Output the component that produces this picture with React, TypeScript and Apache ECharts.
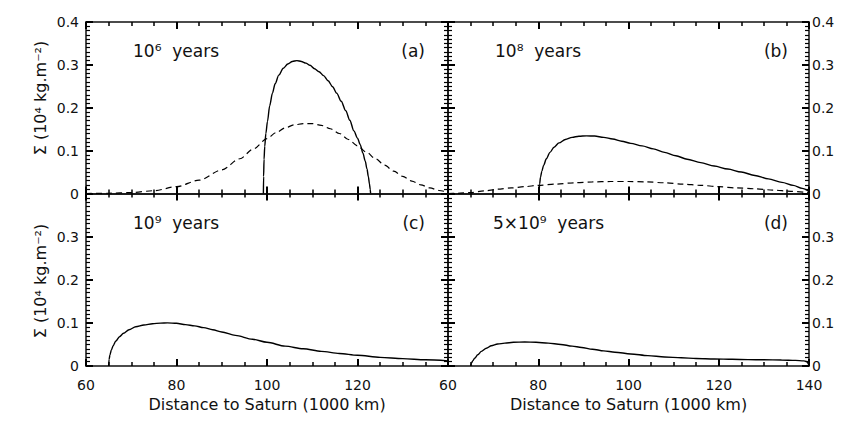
import React, { useEffect, useRef } from "react";
import * as echarts from "echarts";

// Radial range (1000 km) and surface density range (10^4 kg m^-2)
const X_MIN = 60;
const X_MAX = 140;
const X_STEP = 20;
const Y_MIN = 0;
const Y_MAX = 0.4;
const Y_STEP = 0.1;

// (a) 10^6 years
const aSolid: [number, number][] = [
  [99.2, 0], [99.25, 0.04], [99.35, 0.08], [99.5, 0.11], [99.75, 0.14], [100.1, 0.168],
  [100.6, 0.205], [101.2, 0.234], [101.8, 0.256], [102.6, 0.276], [103.6, 0.292],
  [104.6, 0.302], [105.6, 0.308], [106.6, 0.31], [107.6, 0.308], [108.6, 0.304],
  [109.5, 0.299], [110.5, 0.291], [111.5, 0.284], [112.5, 0.275], [113.5, 0.263],
  [114.5, 0.249], [115.4, 0.234], [116.4, 0.215], [117.4, 0.193], [118.3, 0.171],
  [119.2, 0.146], [120, 0.129], [120.6, 0.114], [121.2, 0.094], [121.7, 0.076],
  [122.1, 0.057], [122.4, 0.039], [122.65, 0.022], [122.8, 0.01], [122.9, 0],
];
const aDashed: [number, number][] = [
  [60, 0], [65, 0.0006], [70, 0.0022], [75, 0.0065], [80, 0.016], [85, 0.031], [90, 0.055],
  [94, 0.081], [97, 0.104], [100, 0.128], [102, 0.142], [104, 0.153], [106, 0.16],
  [108, 0.163], [110, 0.163], [112, 0.159], [114, 0.151], [116, 0.14], [118, 0.126],
  [120, 0.111], [122, 0.096], [124, 0.081], [126, 0.066], [128, 0.052], [130, 0.04],
  [132, 0.029], [134, 0.02], [136, 0.013], [138, 0.007], [140, 0.003],
];

// (b) 10^8 years
const bSolid: [number, number][] = [
  [80.2, 0], [80.3, 0.022], [80.5, 0.038], [80.8, 0.052], [81.2, 0.066], [81.8, 0.081],
  [82.6, 0.096], [83.5, 0.108], [84.6, 0.118], [86, 0.126], [87.5, 0.131], [89, 0.1335],
  [90.7, 0.1345], [92.5, 0.134], [94.5, 0.131], [96.5, 0.127], [98.5, 0.122], [100.5, 0.117],
  [103, 0.111], [105.5, 0.104], [108, 0.096], [110.5, 0.088], [113, 0.08], [116, 0.072],
  [119, 0.064], [122, 0.057], [125, 0.05], [128, 0.042], [131, 0.034], [134, 0.026],
  [136.5, 0.019], [138.5, 0.012], [140, 0.005],
];
const bDashed: [number, number][] = [
  [60, 0], [62, 0.0005], [65, 0.002], [68, 0.006], [71, 0.01], [74, 0.013], [77, 0.016],
  [80, 0.019], [84, 0.022], [88, 0.025], [92, 0.027], [96, 0.028], [100, 0.028], [104, 0.027],
  [108, 0.025], [112, 0.022], [116, 0.019], [120, 0.016], [124, 0.013], [128, 0.011],
  [132, 0.008], [136, 0.005], [140, 0.002],
];

// (c) 10^9 years
const cSolid: [number, number][] = [
  [65, 0], [65.1, 0.015], [65.3, 0.026], [65.6, 0.037], [66, 0.047], [66.6, 0.058],
  [67.4, 0.068], [68.3, 0.076], [69.5, 0.084], [71, 0.091], [72.8, 0.095], [74.7, 0.098],
  [76.5, 0.0995], [78, 0.1], [80, 0.099], [82, 0.096], [84, 0.093], [86, 0.089], [88, 0.084],
  [90, 0.079], [93, 0.071], [96.8, 0.062], [100, 0.055], [104, 0.046], [108, 0.04],
  [112, 0.034], [116, 0.029], [120, 0.025], [125, 0.02], [130, 0.017], [135, 0.0145],
  [140, 0.012],
];

// (d) 5x10^9 years
const dSolid: [number, number][] = [
  [65, 0], [65.2, 0.007], [65.5, 0.012], [65.9, 0.018], [66.6, 0.026], [67.4, 0.034],
  [68.5, 0.041], [69.6, 0.047], [71, 0.051], [72.6, 0.053], [74.5, 0.055], [77, 0.0555],
  [79.5, 0.055], [82.2, 0.053], [85, 0.05], [87.5, 0.046], [89.6, 0.043], [92, 0.039],
  [94.5, 0.035], [97, 0.032], [100.5, 0.028], [104.3, 0.024], [108, 0.021], [111.7, 0.019],
  [115, 0.0175], [119, 0.0164], [123, 0.0155], [126.5, 0.0148], [130, 0.0144],
  [133.9, 0.014], [137, 0.013], [138.8, 0.012], [139.4, 0.0105], [140, 0.002],
];

const panelTitles = ["10\u2076  years", "10\u2078  years", "10\u2079  years", "5\u00d710\u2079  years"];
const panelTags = ["(a)", "(b)", "(c)", "(d)"];
const yName = "\u03a3 (10\u2074 kg.m\u207b\u00b2)";
const xName = "Distance to Saturn (1000 km)";

const FONT = '"DejaVu Sans"';
const INK = "#111";

const grids = [
  { left: 86, top: 22, width: 362, height: 171.5 },
  { left: 448, top: 22, width: 361, height: 171.5 },
  { left: 86, top: 193.5, width: 362, height: 172.5 },
  { left: 448, top: 193.5, width: 361, height: 172.5 },
];

const majorTick = { show: true, inside: true, length: 7, lineStyle: { color: "#000", width: 2 } };

function xAxisFor(grid: number, position: string, showLabel: boolean, showMax: boolean) {
  return {
    type: "value",
    gridIndex: grid,
    position,
    min: X_MIN,
    max: X_MAX,
    interval: X_STEP,
    axisLine: { show: true, onZero: false, lineStyle: { color: INK, width: 1.5 } },
    axisTick: majorTick,
    minorTick: { show: true, splitNumber: 4, length: 4, lineStyle: { color: "#000", width: 1.5 } },
    splitLine: { show: false },
    axisLabel: {
      show: showLabel,
      showMaxLabel: showMax,
      margin: 12,
      fontFamily: FONT,
      fontSize: 14,
      color: INK,
    },
  };
}

function yAxisFor(grid: number, position: string, showLabel: boolean, showMax: boolean) {
  return {
    type: "value",
    gridIndex: grid,
    position,
    min: Y_MIN,
    max: Y_MAX,
    interval: Y_STEP,
    axisLine: { show: true, onZero: false, lineStyle: { color: INK, width: 1.5 } },
    axisTick: majorTick,
    minorTick: { show: true, splitNumber: 10, length: 4, lineStyle: { color: "#000", width: 1.2 } },
    splitLine: { show: false },
    axisLabel: {
      show: showLabel,
      showMaxLabel: showMax,
      margin: position === "left" ? 7 : 3,
      fontFamily: FONT,
      fontSize: 14,
      color: INK,
    },
  };
}

function curve(data: [number, number][], grid: number, dashed: boolean) {
  return {
    type: "line",
    xAxisIndex: grid * 2,
    yAxisIndex: grid * 2,
    data,
    symbol: "none",
    showSymbol: false,
    smooth: 0.3,
    smoothMonotone: "x",
    silent: true,
    lineStyle: { color: "#000", width: dashed ? 1.2 : 1.4, type: dashed ? [6, 4] : "solid" },
  };
}

export default function App() {
  const ref = useRef<HTMLDivElement>(null);

  useEffect(() => {
    if (!ref.current) return;
    const chart = echarts.init(ref.current, null, { renderer: "svg" });

    const xAxes: any[] = [];
    const yAxes: any[] = [];
    grids.forEach((_, i) => {
      const bottomRow = i >= 2;
      const leftCol = i % 2 === 0;
      xAxes.push(xAxisFor(i, "bottom", bottomRow, i === 3));
      xAxes.push(xAxisFor(i, "top", false, true));
      yAxes.push(yAxisFor(i, "left", leftCol, !bottomRow));
      yAxes.push(yAxisFor(i, "right", !leftCol, !bottomRow));
    });

    const textFont = `17px ${FONT}`;
    const graphics: any[] = [];
    const titlePos = [
      { x: 133, y: 51, tagX: 425 },
      { x: 495, y: 51, tagX: 788 },
      { x: 133, y: 222.5, tagX: 425 },
      { x: 493, y: 222.5, tagX: 788 },
    ];
    titlePos.forEach((p, i) => {
      graphics.push({
        type: "text",
        x: p.x,
        y: p.y,
        silent: true,
        style: { text: panelTitles[i], font: textFont, fill: INK, align: "left", verticalAlign: "middle" },
      });
      graphics.push({
        type: "text",
        x: p.tagX,
        y: p.y,
        silent: true,
        style: { text: panelTags[i], font: textFont, fill: INK, align: "right", verticalAlign: "middle" },
      });
    });
    [98, 281].forEach((cy) => {
      graphics.push({
        type: "text",
        x: 40,
        y: cy,
        rotation: Math.PI / 2,
        silent: true,
        style: { text: yName, font: `16px ${FONT}`, fill: INK, align: "center", verticalAlign: "middle" },
      });
    });
    [267, 628.5].forEach((cx) => {
      graphics.push({
        type: "text",
        x: cx,
        y: 404,
        silent: true,
        style: { text: xName, font: `16px ${FONT}`, fill: INK, align: "center", verticalAlign: "middle" },
      });
    });

    chart.setOption({
      animation: false,
      backgroundColor: "#fff",
      grid: grids,
      xAxis: xAxes,
      yAxis: yAxes,
      series: [
        curve(aSolid, 0, false),
        curve(aDashed, 0, true),
        curve(bSolid, 1, false),
        curve(bDashed, 1, true),
        curve(cSolid, 2, false),
        curve(dSolid, 3, false),
      ],
      graphic: graphics,
    });

    return () => chart.dispose();
  }, []);

  return (
    <div
      ref={ref}
      style={{ position: "absolute", left: 0, top: 0, width: 846, height: 432, background: "#fff" }}
    />
  );
}
